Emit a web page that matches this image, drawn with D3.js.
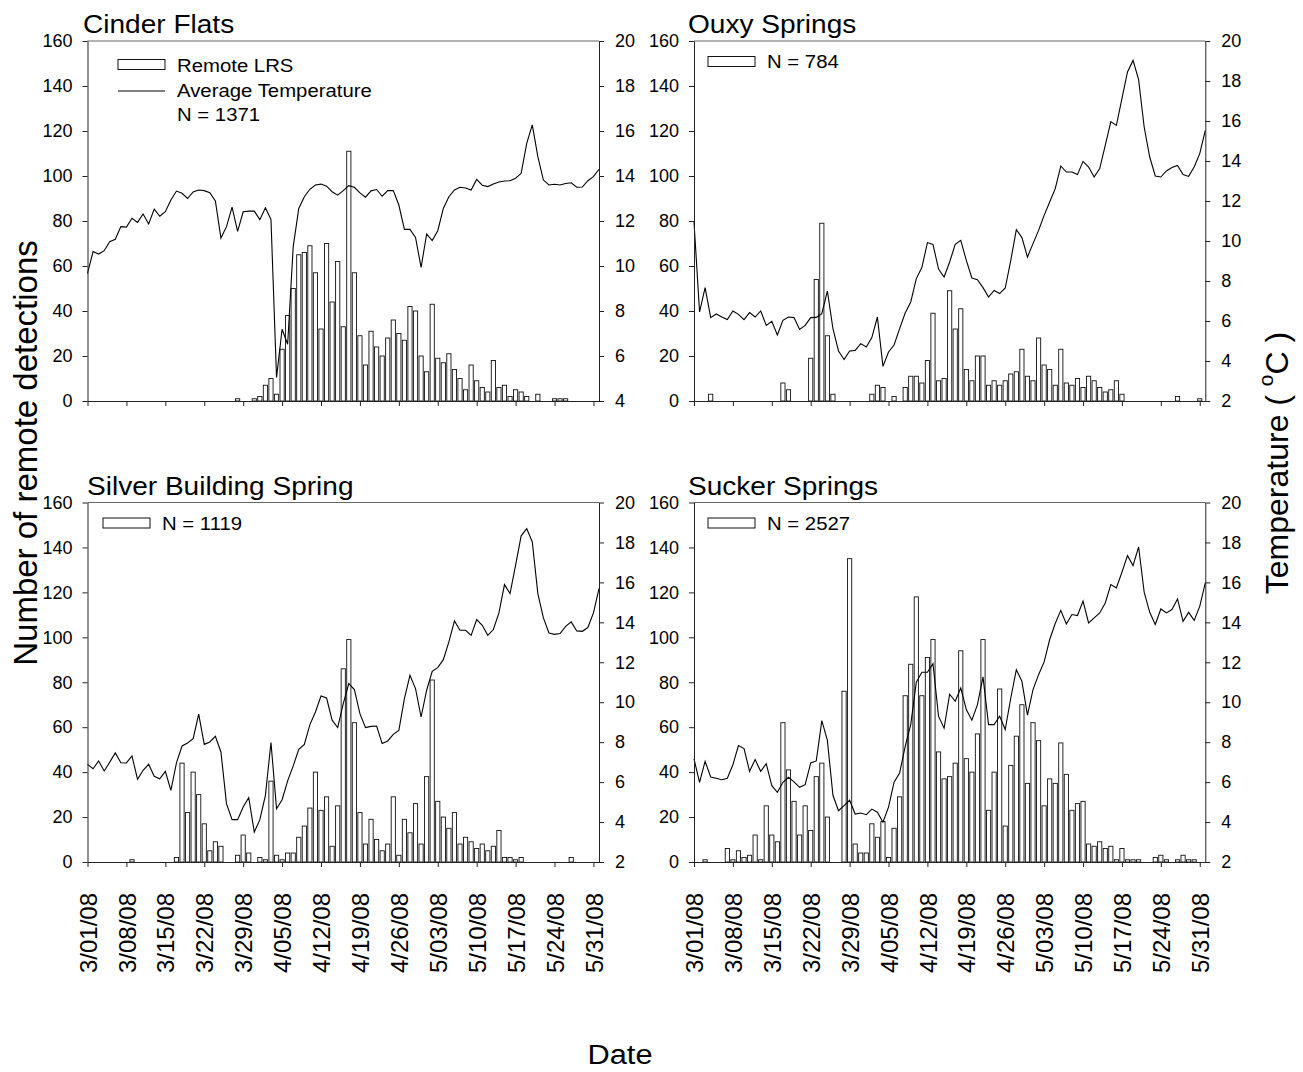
<!DOCTYPE html>
<html>
<head>
<meta charset="utf-8">
<script src="https://cdn.jsdelivr.net/npm/d3@7"></script>
<style>
  body { margin: 0; background: #fff; }
  svg text { font-family: "Liberation Sans", Arial, sans-serif; fill: #000; }
</style>
</head>
<body>
<div id="chart"></div>
<script>
// daily data, 3/01/08 .. 5/31/08 (counts) and 3/01/08 .. 6/01/08 (temperature)
const siteNames = ['Cinder Flats', 'Ouxy Springs', 'Silver Building Spring', 'Sucker Springs'];
const siteN = [1371, 784, 1119, 2527];

const cinderCounts = [
    0, 0, 0, 0, 0, 0, 0, 0, 0, 0,
    0, 0, 0, 0, 0, 0, 0, 0, 0, 0,
    0, 0, 0, 0, 0, 0, 0, 1, 0, 0,
    1, 2, 7, 10, 3, 23, 38, 50, 65, 66,
    69, 57, 32, 70, 44, 62, 33, 111, 57, 29,
    16, 31, 24, 20, 28, 36, 30, 27, 42, 40,
    20, 13, 43, 19, 17, 21, 14, 10, 5, 16,
    9, 6, 4, 18, 6, 7, 2, 5, 4, 2,
    0, 3, 0, 0, 1, 1, 1, 0, 0, 0,
    0, 0
];
const cinderTemps = [
    9.67, 10.64, 10.53, 10.68, 11.08, 11.19, 11.75, 11.73, 12.12, 11.94,
    12.31, 11.87, 12.53, 12.21, 12.41, 12.93, 13.33, 13.23, 13.0, 13.29,
    13.38, 13.35, 13.26, 12.89, 11.24, 11.75, 12.62, 11.54, 12.41, 12.44,
    12.44, 12.06, 12.59, 12.07, 5.04, 7.19, 6.52, 10.86, 12.56, 13.08,
    13.41, 13.6, 13.64, 13.55, 13.3, 13.15, 13.35, 13.57, 13.5, 13.25,
    13.06, 13.34, 13.4, 13.1, 13.35, 13.35, 12.71, 11.63, 11.63, 11.27,
    9.94, 11.42, 11.13, 11.57, 12.56, 13.08, 13.38, 13.5, 13.47, 13.38,
    13.85, 13.59, 13.53, 13.64, 13.73, 13.78, 13.79, 13.9, 14.12, 15.45,
    16.27, 14.86, 13.82, 13.6, 13.63, 13.6, 13.67, 13.7, 13.5, 13.51,
    13.79, 13.97, 14.3
];

const ouxyCounts = [
    0, 0, 0, 3, 0, 0, 0, 0, 0, 0,
    0, 0, 0, 0, 0, 0, 8, 5, 0, 0,
    0, 19, 54, 79, 29, 3, 0, 0, 0, 0,
    0, 0, 3, 7, 6, 0, 2, 0, 6, 11,
    11, 8, 18, 39, 9, 10, 49, 32, 41, 14,
    9, 20, 20, 7, 9, 7, 9, 12, 13, 23,
    11, 9, 28, 16, 14, 7, 23, 8, 7, 10,
    6, 11, 9, 6, 4, 5, 9, 3, 0, 0,
    0, 0, 0, 0, 0, 0, 0, 2, 0, 0,
    0, 1
];
const ouxyTemps = [
    10.95, 6.45, 7.67, 6.17, 6.35, 6.2, 6.07, 6.5, 6.33, 6.07,
    6.42, 6.2, 6.5, 5.78, 5.98, 5.3, 6.03, 6.2, 6.17, 5.58,
    5.78, 6.17, 6.18, 6.37, 7.5, 5.62, 4.5, 4.07, 4.5, 4.53,
    4.87, 4.7, 5.17, 6.2, 3.73, 4.45, 4.8, 5.62, 6.4, 6.95,
    8.12, 8.67, 9.92, 9.83, 8.6, 8.2, 8.95, 9.83, 10.03, 9.03,
    8.15, 8.07, 7.67, 7.2, 7.53, 7.37, 7.65, 9.03, 10.57, 10.17,
    9.2, 9.87, 10.53, 11.28, 11.95, 12.62, 13.75, 13.45, 13.45, 13.32,
    13.98, 13.7, 13.2, 13.62, 14.78, 15.97, 15.78, 17.12, 18.45, 19.03,
    18.07, 15.7, 14.2, 13.25, 13.2, 13.5, 13.67, 13.78, 13.32, 13.23,
    13.7, 14.37, 15.53
];

const silverCounts = [
    0, 0, 0, 0, 0, 0, 0, 0, 1, 0,
    0, 0, 0, 0, 0, 0, 2, 44, 22, 40,
    30, 17, 5, 9, 7, 0, 0, 3, 12, 4,
    0, 2, 1, 36, 3, 1, 4, 4, 11, 16,
    24, 40, 23, 29, 7, 25, 86, 99, 62, 22,
    8, 19, 10, 5, 8, 29, 3, 19, 13, 26,
    8, 38, 81, 27, 20, 15, 22, 8, 11, 9,
    6, 8, 5, 7, 14, 2, 2, 1, 2, 0,
    0, 0, 0, 0, 0, 0, 0, 2, 0, 0,
    0, 0
];
const silverTemps = [
    6.89, 6.67, 7.06, 6.56, 7.0, 7.46, 6.97, 6.96, 7.31, 6.14,
    6.59, 6.89, 6.29, 6.17, 6.54, 5.59, 6.96, 7.81, 7.96, 8.18,
    9.4, 7.89, 8.01, 8.29, 7.51, 4.92, 4.12, 4.12, 4.75, 5.22,
    3.5, 4.12, 5.34, 7.98, 4.67, 5.12, 6.06, 6.81, 7.64, 7.89,
    8.88, 9.51, 10.31, 10.21, 9.1, 8.73, 9.93, 10.93, 10.63, 9.43,
    8.73, 8.79, 8.81, 7.93, 8.06, 8.39, 8.59, 10.18, 11.35, 10.68,
    9.26, 10.6, 11.55, 11.73, 12.13, 13.02, 14.07, 13.6, 13.6, 13.35,
    14.14, 13.85, 13.35, 13.64, 14.47, 15.89, 15.44, 16.86, 18.33, 18.69,
    18.03, 15.44, 14.22, 13.47, 13.4, 13.44, 13.8, 14.02, 13.57, 13.55,
    13.74, 14.47, 15.69
];

const suckerCounts = [
    0, 0, 1, 0, 0, 0, 6, 1, 5, 2,
    3, 12, 1, 25, 12, 9, 62, 41, 27, 12,
    25, 14, 38, 44, 20, 0, 0, 76, 135, 8,
    4, 4, 17, 11, 18, 2, 15, 29, 74, 88,
    118, 74, 91, 99, 49, 37, 38, 44, 94, 46,
    40, 57, 99, 23, 40, 77, 16, 43, 56, 70,
    35, 62, 54, 25, 37, 35, 53, 39, 23, 26,
    27, 8, 7, 9, 6, 7, 1, 6, 1, 1,
    1, 0, 0, 2, 3, 1, 0, 1, 3, 1,
    1, 0
];
const suckerTemps = [
    7.16, 5.99, 7.04, 6.26, 6.19, 6.12, 6.19, 6.87, 7.83, 7.68,
    6.54, 7.13, 6.54, 6.92, 5.82, 5.49, 5.99, 6.24, 6.01, 5.74,
    5.87, 6.96, 7.06, 9.08, 8.09, 5.34, 4.57, 4.82, 5.09, 4.4,
    4.45, 4.37, 4.65, 4.49, 3.99, 4.75, 6.0, 6.46, 7.79, 8.88,
    11.0, 11.5, 11.5, 11.93, 9.3, 8.7, 10.4, 10.05, 10.71, 9.63,
    9.1, 9.88, 11.27, 8.88, 8.88, 9.3, 8.63, 10.21, 11.63, 11.05,
    9.35, 10.63, 11.38, 12.02, 13.14, 13.94, 14.6, 13.92, 14.39, 14.34,
    15.06, 13.97, 14.22, 14.47, 14.97, 15.89, 15.72, 16.51, 17.34, 16.84,
    17.78, 15.51, 14.5, 13.89, 14.67, 14.47, 14.64, 15.17, 14.05, 14.5,
    14.1, 14.8, 15.97
];

const countTicks = [0, 20, 40, 60, 80, 100, 120, 140, 160];
const cinderTempTicks = [4, 6, 8, 10, 12, 14, 16, 18, 20];
const tempTicks = [2, 4, 6, 8, 10, 12, 14, 16, 18, 20];
const tickDays = [0, 7, 14, 21, 28, 35, 42, 49, 56, 63, 70, 77, 84, 91];

const width = 1303;
const height = 1072;
const barWidth = 4.2;
const textStretch = 1.1;

const startDate = Date.UTC(2008, 2, 1);
const dayDate = (i) => new Date(startDate + i * 864e5);
const dateFormat = d3.utcFormat('%-m/%d/%y');

const panels = [
    {title: siteNames[0], n: siteN[0], counts: cinderCounts, temps: cinderTemps, tTicks: cinderTempTicks,
        left: 87.5, right: 599, top: 41, bottom: 401, titleX: 83, labels: false},
    {title: siteNames[1], n: siteN[1], counts: ouxyCounts, temps: ouxyTemps, tTicks: tempTicks,
        left: 694, right: 1205.3, top: 41, bottom: 401, titleX: 688, labels: false},
    {title: siteNames[2], n: siteN[2], counts: silverCounts, temps: silverTemps, tTicks: tempTicks,
        left: 87.5, right: 599, top: 502.5, bottom: 862, titleX: 87, labels: true},
    {title: siteNames[3], n: siteN[3], counts: suckerCounts, temps: suckerTemps, tTicks: tempTicks,
        left: 694, right: 1205.3, top: 502.5, bottom: 862, titleX: 688, labels: true}
];

const svg = d3.select('#chart')
    .append('svg')
    .attr('width', width)
    .attr('height', height)
;

// horizontal text, slightly wider than the installed font
const hText = (sel, x, y, str, size) => sel.append('text')
    .attr('transform', `translate(${x},${y}) scale(${textStretch},1)`)
    .attr('font-size', size)
    .text(str);

const styleAxis = (g, size) => {
    g.attr('font-size', size).attr('font-family', '"Liberation Sans", Arial, sans-serif');
    g.selectAll('path, line').attr('stroke', '#222');
};

panels.forEach((p, k) => {
    const x = d3.scaleUtc().domain([dayDate(0), dayDate(92)]).range([p.left, p.right]);
    const y = d3.scaleLinear().domain([0, 160]).range([p.bottom, p.top]);
    const yT = d3.scaleLinear().domain(d3.extent(p.tTicks)).range([p.bottom, p.top]);

    const g = svg.append('g').attr('class', 'panel');

    // detection bars
    g.selectAll('rect.bar')
        .data(p.counts.map((v, i) => ({i, v})).filter(d => d.v > 0))
        .enter()
        .append('rect')
        .attr('class', 'bar')
        .attr('x', d => x(dayDate(d.i)) - barWidth / 2)
        .attr('y', d => y(d.v))
        .attr('width', barWidth)
        .attr('height', d => y(0) - y(d.v))
        .attr('fill', '#fff')
        .attr('stroke', '#111')
        .attr('stroke-width', 0.9)
    ;

    // temperature line
    const line = d3.line()
        .x((d, i) => x(dayDate(i)))
        .y(d => yT(d));
    g.append('path')
        .datum(p.temps)
        .attr('d', line)
        .attr('fill', 'none')
        .attr('stroke', '#000')
        .attr('stroke-width', 1.1)
        .attr('stroke-linejoin', 'miter')
    ;

    // top of frame
    g.append('line')
        .attr('x1', p.left).attr('x2', p.right)
        .attr('y1', p.top).attr('y2', p.top)
        .attr('stroke', '#666')
        .attr('stroke-width', 1.2)
    ;

    const xAxis = d3.axisBottom(x)
        .tickValues(tickDays.map(dayDate))
        .tickSize(5)
        .tickSizeOuter(0)
        .tickFormat(p.labels ? dateFormat : () => '');
    const gx = g.append('g')
        .attr('transform', `translate(0,${p.bottom})`)
        .call(xAxis);
    styleAxis(gx, 24);
    gx.selectAll('text')
        .attr('transform', 'rotate(-90)')
        .attr('x', -31)
        .attr('y', 0)
        .attr('dy', '0.36em')
        .style('text-anchor', 'end');

    const gl = g.append('g')
        .attr('transform', `translate(${p.left},0)`)
        .call(d3.axisLeft(y).tickValues(countTicks).tickSize(5).tickPadding(10).tickSizeOuter(0));
    styleAxis(gl, 18);

    const gr = g.append('g')
        .attr('transform', `translate(${p.right},0)`)
        .call(d3.axisRight(yT).tickValues(p.tTicks).tickSize(5).tickPadding(11).tickSizeOuter(0));
    styleAxis(gr, 18);

    // title
    hText(svg, p.titleX, p.top - 8, p.title, 25.5);

    // legend
    if (k === 0) {
        svg.append('rect')
            .attr('x', 118).attr('y', 59.5).attr('width', 47).attr('height', 10)
            .attr('fill', '#fff').attr('stroke', '#111').attr('stroke-width', 1);
        hText(svg, 177, 71.5, 'Remote LRS', 18.5);
        svg.append('line')
            .attr('x1', 118).attr('x2', 165).attr('y1', 91).attr('y2', 91)
            .attr('stroke', '#000').attr('stroke-width', 1.1);
        hText(svg, 177, 97, 'Average Temperature', 18.5);
        hText(svg, 177, 121, `N = ${p.n}`, 18.5);
    } else {
        const lx = p.left + 14 + (k === 2 ? 1.5 : 0);
        svg.append('rect')
            .attr('x', lx).attr('y', p.top + 15.5).attr('width', 47).attr('height', 10)
            .attr('fill', '#fff').attr('stroke', '#111').attr('stroke-width', 1);
        hText(svg, lx + 59, p.top + 27, `N = ${p.n}`, 18.5);
    }
});

// shared axis titles
svg.append('text')
    .attr('transform', 'translate(37,453) rotate(-90)')
    .attr('text-anchor', 'middle')
    .attr('font-size', 33)
    .text('Number of remote detections');

const tLabel = svg.append('text')
    .attr('transform', 'translate(1288,463) rotate(-90)')
    .attr('text-anchor', 'middle')
    .attr('font-size', 32);
tLabel.append('tspan').text('Temperature (  ');
tLabel.append('tspan').attr('font-size', 21).attr('dy', '-0.7em').text('o');
tLabel.append('tspan').attr('dy', '0.45em').text('C  )');

svg.append('text')
    .attr('transform', `translate(620,1064) scale(${textStretch},1)`)
    .attr('text-anchor', 'middle')
    .attr('font-size', 28)
    .text('Date');
</script>
</body>
</html>
